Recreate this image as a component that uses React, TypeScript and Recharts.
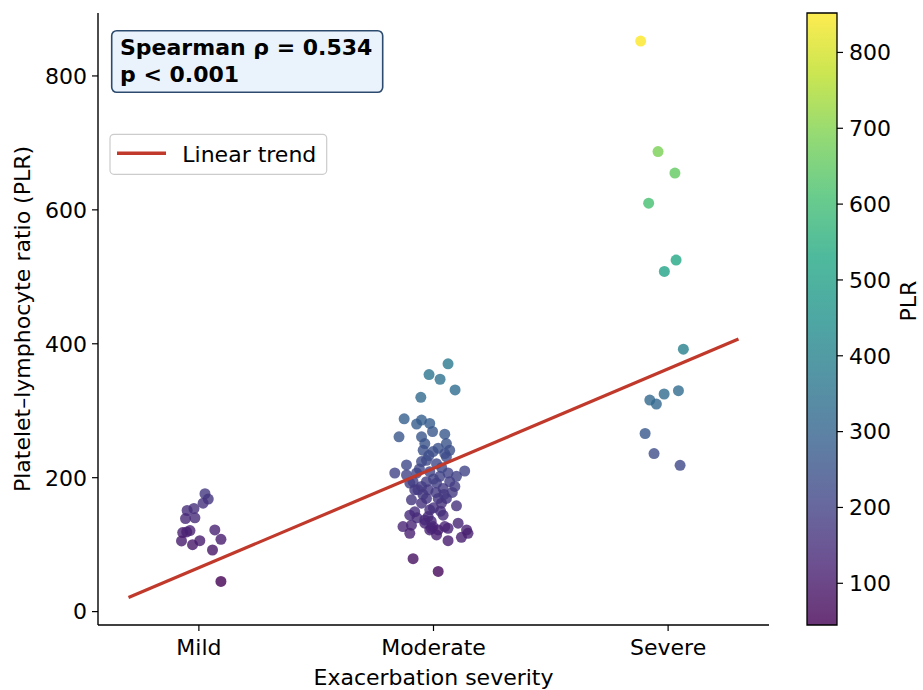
import React from 'react';
import { ScatterChart, Scatter, XAxis, YAxis, ComposedChart, ReferenceArea, Label } from 'recharts';

const categories = ['Mild', 'Moderate', 'Severe'];

const mildJitter = [0.026, 0.04, 0.018, -0.021, -0.05, -0.057, -0.017, -0.069, -0.038, -0.052, 0.068, -0.074, -0.027, 0.004, 0.094, 0.058, 0.094];
const mildPLR = [176, 168, 162, 154, 151, 139, 140, 118, 121, 119, 122, 105.5, 100, 106, 108, 92, 45];

const moderateJitter = [
  0.062, -0.019, 0.028, 0.092, -0.054, -0.125, -0.051, -0.072, -0.016, -0.004,
  -0.147, -0.051, 0.048, -0.037, 0.055, 0.02, -0.044, 0.069, -0.002, 0.048,
  -0.03, 0.055, -0.051, -0.115, 0.013, -0.165, -0.115, 0.133, -0.072, -0.016,
  0.062, 0.027, 0.098, -0.087, -0.03, 0.013, 0.069, -0.051, 0.041, 0.091,
  -0.101, -0.08, -0.023, -0.094, -0.03, 0.02, 0.055, -0.051, 0.034, 0.098,
  -0.08, -0.016, 0.041, -0.023, -0.094, -0.13, -0.037, -0.002, 0.048, 0.105,
  -0.016, 0.02, 0.062, 0.141, 0.119, 0.147, -0.101, 0.013, 0.062, -0.087,
  0.02, -0.101, -0.009, -0.037, -0.066,
  0.0, -0.01, 0.03, -0.045, 0.01, 0.045, -0.06, 0.035, -0.02, 0.08, -0.07, 0.0,
];
const moderatePLR = [
  370, 354, 347, 331, 320, 288, 286, 280, 281, 269,
  261, 261, 265, 251, 251, 244, 241, 241, 239, 236,
  226, 231, 224, 219, 221, 207, 204, 210, 207, 209,
  207, 202, 202, 194, 194, 192, 194, 187, 184, 187,
  192, 182, 182, 167, 169, 169, 169, 162, 162, 158,
  149, 152, 144, 142, 129, 127, 132, 127, 127, 132,
  122, 122, 124.5, 122, 111, 117, 117, 114.5, 106, 79,
  60, 144, 124.5, 137, 182,
  155, 135, 150, 175, 178, 175, 213, 215, 233, 178, 140, 198,
];

const severeJitter = [-0.117, -0.043, 0.029, -0.083, 0.034, -0.016, 0.065, 0.044, -0.017, -0.078, -0.05, -0.098, -0.06, 0.051];
const severePLR = [852, 687, 655, 610, 525, 508, 392, 330, 325, 316, 310, 266, 236, 218.5];

const trendX = [-0.3, 2.3];
const trendY = [21, 407];

const yTicks = [0, 200, 400, 600, 800];
const colorbarTicks = [100, 200, 300, 400, 500, 600, 700, 800];
const plrMin = 45;
const plrMax = 852;

const VIRIDIS = ['#440154', '#482475', '#414487', '#355f8d', '#2a788e', '#21918c', '#22a884', '#44bf70', '#7ad151', '#bddf26', '#fde725'];

function hexToRgb(h: string) {
  return [parseInt(h.slice(1, 3), 16), parseInt(h.slice(3, 5), 16), parseInt(h.slice(5, 7), 16)];
}
function viridis(t: number) {
  const c = Math.max(0, Math.min(1, t));
  const s = c * (VIRIDIS.length - 1);
  const i = Math.min(VIRIDIS.length - 2, Math.floor(s));
  const f = s - i;
  const a = hexToRgb(VIRIDIS[i]);
  const b = hexToRgb(VIRIDIS[i + 1]);
  const r = a.map((v, k) => Math.round(v + (b[k] - v) * f));
  return `rgb(${r[0]},${r[1]},${r[2]})`;
}

const points = [
  ...mildJitter.map((j, i) => ({ x: 0 + j, y: mildPLR[i] })),
  ...moderateJitter.map((j, i) => ({ x: 1 + j, y: moderatePLR[i] })),
  ...severeJitter.map((j, i) => ({ x: 2 + j, y: severePLR[i] })),
];
const trendData = trendX.map((x, i) => ({ x, y: trendY[i] }));
const colorbarData = [{ x: 0 }, { x: 1 }];

const FONT = 'DejaVu Sans, sans-serif';
const FS = 22;
const TREND_COLOR = '#c0392b';

const Dot = (props: any) => {
  const { cx, cy, payload } = props;
  if (cx == null || cy == null) return <g />;
  return (
    <circle
      cx={cx}
      cy={cy}
      r={5.5}
      fill={viridis((payload.y - plrMin) / (plrMax - plrMin))}
      fillOpacity={0.8}
    />
  );
};

const NoDot = () => <g />;

export default function App() {
  const tickStyle = { fill: '#000', fontSize: FS, fontFamily: FONT };
  return (
    <div style={{ position: 'absolute', left: 0, top: 0, width: 923, height: 690, background: '#fff' }}>
      <div style={{ position: 'absolute', left: 0, top: 0 }}>
        <ScatterChart width={923} height={690} margin={{ top: 13, right: 154, bottom: 0, left: 38 }}>
          <XAxis
            type="number"
            dataKey="x"
            domain={[-0.43, 2.43]}
            ticks={[0, 1, 2]}
            allowDataOverflow
            tickFormatter={(v: number) => categories[Math.round(v)]}
            height={65}
            tick={tickStyle}
            tickSize={6}
            tickMargin={8}
            axisLine={{ stroke: '#000', strokeWidth: 1.4 }}
            tickLine={{ stroke: '#000', strokeWidth: 1.2 }}
          >
            <Label
              content={(p: any) => {
                const vb = p.viewBox || { x: 98, width: 671 };
                return (
                  <text x={vb.x + vb.width / 2} y={685} textAnchor="middle" fill="#000" fontSize={FS} fontFamily={FONT}>
                    Exacerbation severity
                  </text>
                );
              }}
            />
          </XAxis>
          <YAxis
            type="number"
            dataKey="y"
            domain={[-20, 894]}
            ticks={yTicks}
            allowDataOverflow
            width={60}
            tick={tickStyle}
            tickSize={6}
            tickMargin={5}
            axisLine={{ stroke: '#000', strokeWidth: 1.4 }}
            tickLine={{ stroke: '#000', strokeWidth: 1.2 }}
          >
            <Label
              content={(p: any) => {
                const vb = p.viewBox || { y: 13, height: 612 };
                const cy = vb.y + vb.height / 2;
                return (
                  <text
                    x={22}
                    y={cy}
                    transform={`rotate(-90, 22, ${cy})`}
                    textAnchor="middle"
                    dominantBaseline="central"
                    fill="#000"
                    fontSize={FS}
                    fontFamily={FONT}
                  >
                    Platelet–lymphocyte ratio (PLR)
                  </text>
                );
              }}
            />
          </YAxis>
          <Scatter data={points} shape={Dot} isAnimationActive={false} />
          <Scatter
            data={trendData}
            shape={NoDot}
            line={{ stroke: TREND_COLOR, strokeWidth: 3.2 }}
            isAnimationActive={false}
          />
        </ScatterChart>
      </div>

      <div style={{ position: 'absolute', left: 770, top: 0 }}>
        <ComposedChart width={153} height={690} margin={{ top: 13, right: 0, bottom: 65, left: 37 }} data={colorbarData}>
          <defs>
            <linearGradient id="viridisGrad" x1="0" y1="1" x2="0" y2="0">
              {VIRIDIS.map((c, i) => (
                <stop key={i} offset={`${(i / (VIRIDIS.length - 1)) * 100}%`} stopColor={c} stopOpacity={0.8} />
              ))}
            </linearGradient>
          </defs>
          <XAxis type="number" dataKey="x" domain={[0, 1]} hide />
          <YAxis
            type="number"
            orientation="right"
            domain={[plrMin, plrMax]}
            ticks={colorbarTicks}
            allowDataOverflow
            width={86}
            axisLine={false}
            tick={tickStyle}
            tickSize={6}
            tickMargin={6}
            tickLine={{ stroke: '#000', strokeWidth: 1.2 }}
          >
            <Label
              content={() => {
                const cy = 301;
                const x = 138;
                return (
                  <text
                    x={x}
                    y={cy}
                    transform={`rotate(-90, ${x}, ${cy})`}
                    textAnchor="middle"
                    dominantBaseline="central"
                    fill="#000"
                    fontSize={FS}
                    fontFamily={FONT}
                  >
                    PLR
                  </text>
                );
              }}
            />
          </YAxis>
          <ReferenceArea
            x1={0}
            x2={1}
            y1={plrMin}
            y2={plrMax}
            fill="url(#viridisGrad)"
            fillOpacity={1}
            stroke="#000"
            strokeWidth={1.3}
            ifOverflow="visible"
          />
        </ComposedChart>
      </div>

      <svg width={923} height={690} style={{ position: 'absolute', left: 0, top: 0, pointerEvents: 'none' }}>
        <rect x={111.7} y={30.7} width={271} height={61.6} rx={5} ry={5} fill="#eaf3fc" stroke="#2c4a6e" strokeWidth={1.6} />
        <text x={120} y={55} fontSize={FS} fontFamily={FONT} fontWeight="bold" fill="#000">
          Spearman ρ = 0.534
        </text>
        <text x={120} y={81.7} fontSize={FS} fontFamily={FONT} fontWeight="bold" fill="#000">
          p &lt; 0.001
        </text>
        <rect x={110} y={134.3} width={216.7} height={40} rx={4} ry={4} fill="#fff" fillOpacity={0.8} stroke="#cccccc" strokeWidth={1.2} />
        <line x1={117} y1={153.3} x2={166} y2={153.3} stroke={TREND_COLOR} strokeWidth={3.5} />
        <text x={182.3} y={161.7} fontSize={FS} fontFamily={FONT} fill="#000">
          Linear trend
        </text>
      </svg>
    </div>
  );
}
